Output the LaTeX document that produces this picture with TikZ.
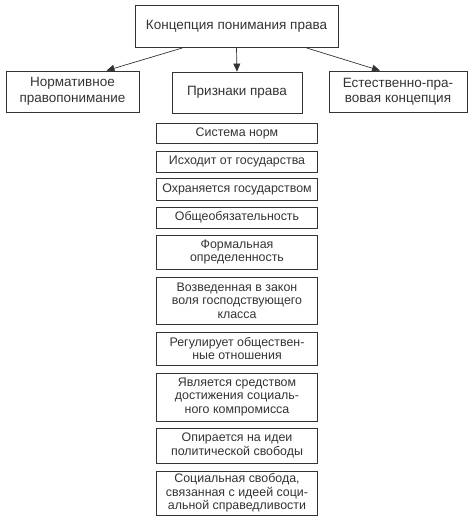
\documentclass[tikz,border=0pt]{standalone}
\usepackage{fontspec}
\setmainfont{Liberation Sans}
\usepackage{xcolor}
\usetikzlibrary{arrows.meta, positioning}

\definecolor{ink}{HTML}{333333}

\begin{document}
\begin{tikzpicture}[x=1pt, y=-1pt,
  headbox/.style={rectangle, draw=ink, line width=0.8pt, text=ink, align=center, font=\fontsize{13.5}{15.5}\selectfont, inner sep=2pt},
  itembox/.style={rectangle, draw=ink, line width=0.8pt, text=ink, align=center, minimum width=161pt, font=\fontsize{12.4}{13.4}\selectfont, inner sep=1pt},
  arrow/.style={-{Triangle[length=8pt, width=7pt]}, line width=0.7pt, draw=ink}
]
\useasboundingbox (0,0) rectangle (474,525);

\node[headbox, minimum width=203pt, minimum height=42pt] (concept) at (236.5,26.5) {Концепция понимания права};
\node[headbox, minimum width=133pt, minimum height=41pt] (norm) at (72.5,91.5) {Нормативное\\правопонимание};
\node[headbox, minimum width=130pt, minimum height=41pt] (signs) at (237,92.5) {Признаки права};
\node[headbox, minimum width=138pt, minimum height=41pt] (natural) at (398,91.5) {Естественно-пра-\\вовая концепция};

\draw[arrow] ([xshift=-54pt]concept.south) -- ([xshift=34pt]norm.north);
\draw[arrow] (concept.south) -- (signs.north);
\draw[arrow] ([xshift=70pt]concept.south) -- ([xshift=-18pt]natural.north);

% признаки права
\node[itembox, minimum height=20pt] (s1) at (237,133) {Система норм};
\node[itembox, minimum height=21pt] (s2) at (237,161.5) {Исходит от государства};
\node[itembox, minimum height=22pt] (s3) at (237,189) {Охраняется государством};
\node[itembox, minimum height=21pt] (s4) at (237,217.5) {Общеобязательность};
\node[itembox, minimum height=34pt] (s5) at (237,252) {Формальная\\определенность};
\node[itembox, minimum height=47pt] (s6) at (237,300.5) {Возведенная в закон\\воля господствующего\\класса};
\node[itembox, minimum height=33pt] (s7) at (237,348.5) {Регулирует обществен-\\ные отношения};
\node[itembox, minimum height=48pt] (s8) at (237,397) {Является средством\\достижения социаль-\\ного компромисса};
\node[itembox, minimum height=35pt] (s9) at (237,445.5) {Опирается на идеи\\политической свободы};
\node[itembox, minimum height=44pt] (s10) at (237,493) {Социальная свобода,\\связанная с идеей соци-\\альной справедливости};
\end{tikzpicture}
\end{document}
